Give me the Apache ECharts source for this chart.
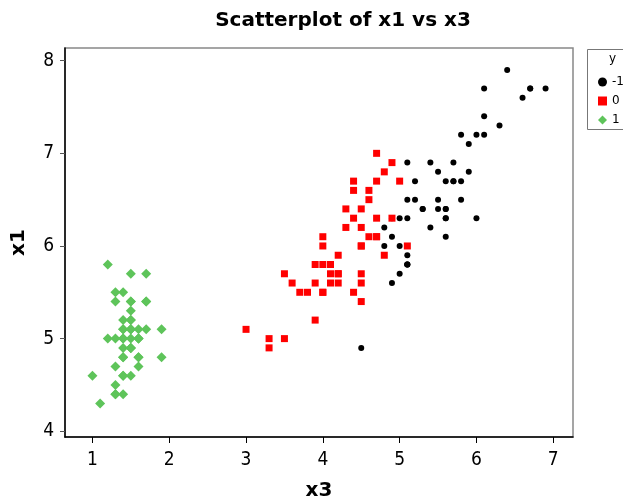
<!DOCTYPE html>
<html><head><meta charset="utf-8">
<script src="https://cdn.jsdelivr.net/npm/echarts@6/dist/echarts.min.js"></script>
<style>html,body{margin:0;padding:0;background:#fff}#c{width:623px;height:500px}</style>
</head><body><div id="c"></div>
<script>
// [x3, x1] pairs per class
const classNames = ['-1', '0', '1'];
const virginica = [[6.0,6.3],[5.1,5.8],[5.9,7.1],[5.6,6.3],[5.8,6.5],[6.6,7.6],[4.5,4.9],[6.3,7.3],[5.8,6.7],[6.1,7.2],[5.1,6.5],[5.3,6.4],[5.5,6.8],[5.0,5.7],[5.1,5.8],[5.3,6.4],[5.5,6.5],[6.7,7.7],[6.9,7.7],[5.0,6.0],[5.7,6.9],[4.9,5.6],[6.7,7.7],[4.9,6.3],[5.7,6.7],[6.0,7.2],[4.8,6.2],[4.9,6.1],[5.6,6.4],[5.8,7.2],[6.1,7.4],[6.4,7.9],[5.6,6.4],[5.1,6.3],[5.6,6.1],[6.1,7.7],[5.6,6.3],[5.5,6.4],[4.8,6.0],[5.4,6.9],[5.6,6.7],[5.1,6.9],[5.1,5.8],[5.9,6.8],[5.7,6.7],[5.2,6.7],[5.0,6.3],[5.2,6.5],[5.4,6.2],[5.1,5.9]];
const versicolor = [[4.7,7.0],[4.5,6.4],[4.9,6.9],[4.0,5.5],[4.6,6.5],[4.5,5.7],[4.7,6.3],[3.3,4.9],[4.6,6.6],[3.9,5.2],[3.5,5.0],[4.2,5.9],[4.0,6.0],[4.7,6.1],[3.6,5.6],[4.4,6.7],[4.5,5.6],[4.1,5.8],[4.5,6.2],[3.9,5.6],[4.8,5.9],[4.0,6.1],[4.9,6.3],[4.7,6.1],[4.3,6.4],[4.4,6.6],[4.8,6.8],[5.0,6.7],[4.5,6.0],[3.5,5.7],[3.8,5.5],[3.7,5.5],[3.9,5.8],[5.1,6.0],[4.5,5.4],[4.5,6.0],[4.7,6.7],[4.4,6.3],[4.1,5.6],[4.0,5.5],[4.4,5.5],[4.6,6.1],[4.0,5.8],[3.3,5.0],[4.2,5.6],[4.2,5.7],[4.2,5.7],[4.3,6.2],[3.0,5.1],[4.1,5.7]];
const setosa = [[1.4,5.1],[1.4,4.9],[1.3,4.7],[1.5,4.6],[1.4,5.0],[1.7,5.4],[1.4,4.6],[1.5,5.0],[1.4,4.4],[1.5,4.9],[1.5,5.4],[1.6,4.8],[1.4,4.8],[1.1,4.3],[1.2,5.8],[1.5,5.7],[1.3,5.4],[1.4,5.1],[1.7,5.7],[1.5,5.1],[1.7,5.4],[1.5,5.1],[1.0,4.6],[1.7,5.1],[1.9,4.8],[1.6,5.0],[1.6,5.0],[1.5,5.2],[1.4,5.2],[1.6,4.7],[1.6,4.8],[1.5,5.4],[1.5,5.2],[1.4,5.5],[1.5,4.9],[1.2,5.0],[1.3,5.5],[1.5,4.9],[1.3,4.4],[1.5,5.1],[1.3,5.0],[1.3,4.5],[1.3,4.4],[1.6,5.0],[1.9,5.1],[1.4,4.8],[1.6,5.1],[1.4,4.6],[1.5,5.3],[1.4,5.0]];
const xTicks = [1,2,3,4,5,6,7];
const yTicks = [4,5,6,7,8];

const FONT = 'DejaVu Sans';
const TICKFONT = '"DejaVu Sans Condensed", "DejaVu Sans"';
const chart = echarts.init(document.getElementById('c'), null, {renderer:'canvas'});
chart.setOption({
  animation:false,
  backgroundColor:'#fff',
  title:{text:'Scatterplot of x1 vs x3', left:338, textAlign:'center', top:6,
    textStyle:{fontFamily:FONT, fontWeight:'bold', fontSize:20, color:'#000'}},
  grid:{left:65, top:48, right:50, bottom:63, show:true, borderColor:'#888', borderWidth:1.5, backgroundColor:'transparent',
    containLabel:false, outerBoundsMode:'none'},
  legend:{orient:'vertical', left:593, top:71, itemWidth:9, itemHeight:9, itemGap:7,
    data:classNames, textStyle:{fontFamily:FONT, fontSize:12, color:'#000'}, itemStyle:{borderWidth:0}},
  graphic:[
    {type:'rect', shape:{x:587.5, y:49.5, width:60, height:80}, style:{fill:'none', stroke:'#777', lineWidth:1}, z:-1},
    {type:'text', left:609, top:53, style:{text:'y', fontFamily:FONT, fontSize:12, fill:'#000'}}
  ],
  xAxis:{type:'value', min:0.643, max:7.257,
    name:'x3', nameLocation:'middle', nameGap:44,
    nameTextStyle:{fontFamily:FONT, fontWeight:'bold', fontSize:20, color:'#000'},
    axisLine:{show:true, onZero:false, lineStyle:{color:'#000', width:1.5}},
    axisTick:{show:true, length:6, customValues:xTicks, lineStyle:{color:'#000'}},
    axisLabel:{customValues:xTicks, fontFamily:TICKFONT, fontSize:19, color:'#000', margin:14},
    splitLine:{show:false}},
  yAxis:{type:'value', min:3.938, max:8.137,
    name:'x1', nameLocation:'middle', nameGap:36,
    nameTextStyle:{fontFamily:FONT, fontWeight:'bold', fontSize:20, color:'#000'},
    axisLine:{show:true, onZero:false, lineStyle:{color:'#000', width:1.5}},
    axisTick:{show:true, length:5, customValues:yTicks, lineStyle:{color:'#555'}},
    axisLabel:{customValues:yTicks, fontFamily:TICKFONT, fontSize:19, color:'#000', margin:11},
    splitLine:{show:false}},
  series:[
    {name:'-1', type:'scatter', data:virginica, symbol:'circle', symbolSize:6, itemStyle:{color:'#000', opacity:1}},
    {name:'0', type:'scatter', data:versicolor, symbol:'rect', symbolSize:7, itemStyle:{color:'#ff0000', opacity:1}},
    {name:'1', type:'scatter', data:setosa, symbol:'diamond', symbolSize:10, itemStyle:{color:'#5ec45a', opacity:1}}
  ]
});
</script></body></html>
